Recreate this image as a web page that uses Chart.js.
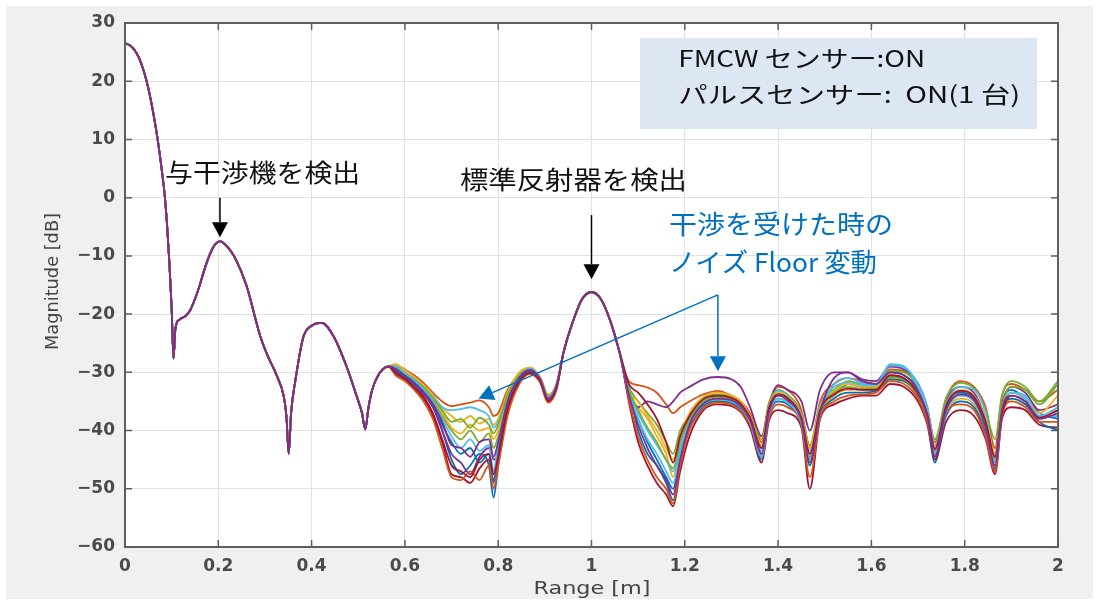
<!DOCTYPE html>
<html>
<head>
<meta charset="utf-8">
<script src="https://cdn.jsdelivr.net/npm/chart.js@4/dist/chart.umd.min.js"></script>
<style>
  html, body { margin: 0; padding: 0; background: #fff; overflow: hidden; }
  canvas { display: block; }
</style>
</head>
<body>
<canvas id="chart" width="1099" height="605"></canvas>
<script>
(function () {
  "use strict";

  // --- data (range in m, magnitude in dB) ---
  // shared part: main lobe, interferer peak and first sidelobes
  var headX = [0, 0.01, 0.02, 0.03, 0.04, 0.05, 0.06, 0.07, 0.08, 0.085, 0.09, 0.095, 0.1, 0.104, 0.108,
    0.116, 0.13, 0.14, 0.155, 0.175, 0.19, 0.204, 0.22, 0.235, 0.26, 0.29, 0.305, 0.325, 0.34,
    0.346, 0.351, 0.356, 0.365, 0.382, 0.40, 0.422, 0.447, 0.475, 0.497, 0.508, 0.515, 0.522, 0.53,
    0.547, 0.565];
  var headY = [26.5, 26.2, 25.4, 24.0, 21.8, 18.8, 14.8, 10.0, 4.0, 0.5, -4.5, -11, -19, -27.6, -22.5,
    -21, -20.3, -19.3, -16.3, -11.2, -8.4, -7.5, -8.5, -10.2, -15, -23.8, -27, -30.5, -34,
    -37.5, -44, -37, -31.5, -24, -22, -21.5, -23.8, -29, -34.2, -37, -39.8, -36, -33,
    -30, -29];

  // noise floor before the reflector
  var floorAX = [0.58, 0.60, 0.62, 0.64, 0.66, 0.68, 0.70, 0.72, 0.74, 0.76, 0.78, 0.79, 0.80, 0.82,
    0.845, 0.868, 0.89, 0.907, 0.925];
  // reflector peak
  var peakX = [0.94, 0.96, 0.98, 1.00, 1.02, 1.04, 1.06];
  var peakY = [-26.6, -21.3, -17.4, -16.2, -17.4, -21.1, -26.5];
  // noise floor after the reflector
  var floorBX = [1.08, 1.10, 1.12, 1.14, 1.16, 1.175, 1.19, 1.21, 1.24, 1.27, 1.30, 1.32, 1.34, 1.365,
    1.38, 1.40, 1.42, 1.45, 1.468, 1.49, 1.52, 1.55, 1.58, 1.61, 1.64, 1.67, 1.70, 1.72, 1.736,
    1.76, 1.79, 1.82, 1.845, 1.865, 1.88, 1.90, 1.93, 1.96, 2.00];

  var floorA = [
    [-29.5, -30.5, -31.5, -33, -35.5, -40, -45, -47.5, -46, -44, -46, -51.5, -46, -37, -31.5, -29.8, -31.5, -34.5, -32.5],
    [-28.8, -29.5, -30.5, -31.8, -33.5, -35, -35.8, -35.5, -35.2, -34.8, -36, -37.5, -37, -33, -30.5, -29.5, -31, -34, -32],
    [-28.6, -29.6, -30.8, -32.2, -34, -36, -37.5, -38.5, -37.5, -38.8, -38, -39, -38, -33.5, -30, -29.2, -30.8, -33.8, -32],
    [-29.8, -31, -32.2, -33.8, -36, -40, -44, -45.5, -47.5, -44.5, -43, -45, -44, -36, -31, -29.6, -31.2, -34.6, -32.4],
    [-29.2, -30.2, -31.4, -32.8, -34.6, -37.5, -40, -41.5, -40, -42, -40.5, -43, -41, -34.5, -30.8, -29.5, -31.1, -34.2, -32.2],
    [-29, -30, -31, -32.5, -34, -36, -36.5, -36.3, -36, -36.5, -37.5, -39.5, -38.5, -34, -30.6, -29.3, -30.9, -34, -32],
    [-30.3, -31.2, -32.8, -34.5, -37.5, -42, -47.5, -48, -49, -46.5, -45, -48.5, -45, -36.5, -31.8, -30.2, -31.6, -35, -32.8],
    [-29.6, -30.8, -32, -33.5, -35.5, -39, -42, -44, -43, -45.5, -44, -49, -43, -35.5, -31.2, -29.8, -31.3, -34.4, -32.4],
    [-30.5, -31.5, -33, -35, -38, -43, -48, -48.5, -47, -48.5, -46, -50, -46, -37.5, -32, -30.3, -31.8, -35.2, -33],
    [-28.7, -29.8, -31, -32.4, -34.2, -37, -39.5, -40.5, -39, -40, -39.5, -41.5, -40, -34, -30.4, -29.2, -30.8, -33.9, -32.1],
    [-29.1, -30.1, -31.2, -32.6, -34.4, -36.5, -38.5, -38, -39.5, -37.8, -39, -40.5, -39, -34, -30.5, -29.4, -31, -34.1, -32.1],
    [-29, -30.1, -31.3, -32.9, -35, -38, -41, -43, -41.5, -43.5, -42.5, -47, -42, -35, -30.8, -29.4, -31, -34.3, -32.2],
    [-30.1, -31.1, -32.6, -34.2, -37, -41.5, -46, -47, -48, -45, -44, -47.5, -44.5, -36.2, -31.6, -30.1, -31.5, -34.9, -32.7],
    [-29.4, -30.6, -31.8, -33.4, -35.4, -38.5, -42.5, -43, -44.5, -42, -41.5, -44.5, -42, -35, -30.9, -29.6, -31.2, -34.5, -32.3]
  ];

  var floorB = [
    [-33, -40, -44, -46, -49, -52, -45, -39, -35, -34, -34.5, -35.5, -38, -44, -37, -33.5, -34.5, -38, -45, -37, -34, -32, -32.5, -32.5, -30, -30.5, -33, -38, -45.5, -36, -33.5, -34.5, -39, -47, -36, -33, -34.5, -37, -38],
    [-31.5, -32.2, -32.6, -33.5, -35.5, -37, -36, -35, -33.8, -33.2, -34, -35, -37, -42, -36, -32.5, -33, -36.5, -43, -35, -32, -31, -31.5, -32, -29.5, -29.8, -32, -36, -42, -34.5, -31.5, -32.5, -36, -43, -34, -32, -33, -35, -33],
    [-33.5, -36, -38, -41, -44, -48, -42, -38, -35.5, -34.8, -35.2, -36.2, -38.5, -43, -37.5, -34.5, -35, -38.5, -44, -37, -34, -33, -33, -33, -31, -31.5, -34, -37.5, -44, -37, -34.5, -35.5, -40, -45, -37.5, -34.5, -35.5, -38, -36],
    [-34, -36, -35, -35.5, -36, -35, -33.5, -32.5, -31.2, -30.8, -31.2, -32.5, -36, -41, -35.5, -32.2, -33, -35, -40, -33, -30, -30, -31.2, -31.5, -29, -29.5, -32, -36.5, -43, -35, -32.5, -33.5, -38, -44, -35.5, -32.5, -33.5, -36.5, -35.5],
    [-32.5, -35, -37, -39, -42, -44, -40, -37.5, -34.5, -33.8, -34.2, -35.3, -37.5, -41.5, -35.5, -33, -33.8, -37, -42.5, -35.5, -33, -31.5, -32, -32, -29.8, -30, -32.5, -36.5, -41.5, -34.5, -31.8, -32.8, -36.5, -41.5, -34, -31.5, -32.5, -35, -31.5],
    [-33, -37, -40, -42.5, -45, -47, -43, -38.5, -35, -34, -34.6, -35.6, -38, -43.5, -36.5, -33.2, -34, -37.5, -43.5, -35.8, -32.5, -31.8, -32.2, -32.2, -28.8, -29.2, -32, -36, -42.5, -35.5, -32.5, -33, -37, -44.5, -36.5, -33.5, -34, -37.5, -37.5],
    [-35, -42, -46, -49, -51, -53, -47, -41, -36.5, -35.5, -35.8, -36.8, -39.5, -45.5, -38.5, -36.5, -37, -39.5, -50, -38, -35.5, -34.5, -34, -34, -32, -32.5, -35, -39, -45, -38.5, -36.5, -37.5, -41.5, -47.5, -38, -36, -36.5, -39, -39.5],
    [-34, -38, -42, -45, -48, -50, -44, -39.5, -35.8, -35, -35.3, -36.3, -38.8, -45, -37.5, -35, -35.5, -39, -46, -37.5, -34.5, -33.5, -33.5, -33.2, -31.2, -31.5, -34, -38, -44.5, -37.5, -35, -36, -40.5, -46.5, -37, -34.5, -35.5, -38.5, -40],
    [-34.5, -41, -45, -48, -50, -52.5, -46, -40, -36.2, -35.2, -35.6, -36.6, -39, -44.5, -38, -35.5, -36, -39, -48, -37.8, -35, -34, -33.8, -33.5, -31.5, -32, -34.5, -38.5, -44, -37, -35.5, -36.5, -41, -47, -37.5, -35, -36, -38.5, -38.5],
    [-33.2, -35, -37.5, -40, -43, -45, -41, -37, -34.2, -33.5, -34, -35, -37.5, -42.5, -36, -33.5, -34.2, -37.5, -43, -36, -33.2, -32, -32.5, -32.5, -30.5, -31, -33.5, -37, -43, -36, -33, -34, -38, -44, -36.5, -33.5, -34.5, -37, -34],
    [-33, -36.5, -39.5, -42, -45, -46.5, -42, -38, -35, -34.2, -34.6, -35.6, -38, -43, -36.8, -34, -34.6, -38, -44.5, -36.4, -33.5, -32.5, -32.8, -32.8, -30.8, -31.2, -33.8, -37.5, -43.5, -36.2, -33.2, -34.2, -38.5, -45, -36, -32.5, -33, -35.5, -32],
    [-33.5, -38, -41.5, -44, -47, -49, -44, -39, -35.5, -34.6, -35, -36, -38.5, -44.5, -37.2, -34.5, -35.2, -38.5, -45, -37, -32, -31, -31.8, -32, -28.6, -29, -32.5, -37, -44, -36.8, -34, -35, -39.5, -45.5, -36.5, -33.5, -34.5, -37.5, -36],
    [-32, -33.5, -35.5, -38, -42, -45.5, -41, -37.5, -34.6, -34, -34.4, -35.4, -37.8, -43, -36.2, -33.8, -34.4, -37.8, -44, -36.5, -33.8, -32.8, -33, -33, -30.5, -31, -33.6, -37.2, -43.2, -35.8, -33.2, -34.2, -38.5, -44.5, -37, -34, -35, -37.8, -36.5],
    [-33.8, -39, -43, -46, -48.5, -51, -45, -39, -35.4, -34.5, -34.8, -35.8, -38.2, -44, -37, -34, -34.8, -38.2, -45.5, -36.8, -31, -30, -31.5, -32, -30, -30.5, -33.2, -37.5, -44.5, -36.5, -33.8, -34.8, -39.5, -46, -36.5, -34, -35, -38, -37]
  ];

  var traceColors = ["#0072BD", "#D95319", "#EDB120", "#7E2F8E", "#77AC30", "#4DBEEE", "#A2142F",
    "#0072BD", "#D95319", "#EDB120", "#77AC30", "#4DBEEE", "#A2142F", "#7E2F8E"];

  var xTicks = [0, 0.2, 0.4, 0.6, 0.8, 1, 1.2, 1.4, 1.6, 1.8, 2];
  var yTicks = [30, 20, 10, 0, -10, -20, -30, -40, -50, -60];

  var xTitle = "Range [m]";
  var yTitle = "Magnitude [dB]";
  var legendLines = ["FMCW センサー:ON", "パルスセンサー:  ON(1 台)"];
  var noteInterferer = "与干渉機を検出";
  var noteReflector = "標準反射器を検出";
  var noteFloor = ["干渉を受けた時の", "ノイズ Floor 変動"];

  // --- build datasets (later traces drawn on top, like MATLAB) ---
  var allX = headX.concat(floorAX, peakX, floorBX);
  var datasets = floorA.map(function (a, i) {
    var ys = headY.concat(a, peakY, floorB[i]);
    return {
      data: allX.map(function (x, k) { return { x: x, y: ys[k] }; }),
      borderColor: traceColors[i],
      borderWidth: 1.8,
      pointRadius: 0,
      fill: false,
      order: floorA.length - i,
      cubicInterpolationMode: "monotone"
    };
  });

  function fitText(ctx, text, x, y, w, font, color) {
    ctx.save();
    ctx.font = font;
    ctx.fillStyle = color;
    ctx.textBaseline = "middle";
    ctx.textAlign = "left";
    var m = ctx.measureText(text).width;
    ctx.translate(x, y);
    ctx.scale(w / m, 1);
    ctx.fillText(text, 0, 0);
    ctx.restore();
  }

  function arrow(ctx, x1, y1, x2, y2, color, lw, headLen, headHalf) {
    var ang = Math.atan2(y2 - y1, x2 - x1);
    var bx = x2 - Math.cos(ang) * headLen;
    var by = y2 - Math.sin(ang) * headLen;
    ctx.save();
    ctx.strokeStyle = color;
    ctx.fillStyle = color;
    ctx.lineWidth = lw;
    ctx.beginPath();
    ctx.moveTo(x1, y1);
    ctx.lineTo(bx, by);
    ctx.stroke();
    ctx.beginPath();
    ctx.moveTo(x2, y2);
    ctx.lineTo(bx + Math.sin(ang) * headHalf, by - Math.cos(ang) * headHalf);
    ctx.lineTo(bx - Math.sin(ang) * headHalf, by + Math.cos(ang) * headHalf);
    ctx.closePath();
    ctx.fill();
    ctx.restore();
  }

  var framePlugin = {
    id: "frame",
    beforeDraw: function (chart) {
      var ctx = chart.ctx, a = chart.chartArea;
      ctx.save();
      ctx.fillStyle = "#ffffff";
      ctx.fillRect(0, 0, chart.width, chart.height);
      ctx.fillStyle = "#f0f0f0";
      ctx.fillRect(6, 6, chart.width - 12, chart.height - 12);
      ctx.fillStyle = "#ffffff";
      ctx.fillRect(a.left, a.top, a.right - a.left, a.bottom - a.top);
      ctx.restore();
    },
    afterDraw: function (chart) {
      var ctx = chart.ctx, a = chart.chartArea;
      var xs = chart.scales.x, ys = chart.scales.y;
      ctx.save();
      // box and inward ticks
      ctx.strokeStyle = "#5e5e5e";
      ctx.lineWidth = 2;
      ctx.strokeRect(a.left, a.top, a.right - a.left, a.bottom - a.top);
      ctx.lineWidth = 1.5;
      ctx.beginPath();
      xTicks.forEach(function (v) {
        var px = xs.getPixelForValue(v);
        ctx.moveTo(px, a.bottom); ctx.lineTo(px, a.bottom - 7);
        ctx.moveTo(px, a.top); ctx.lineTo(px, a.top + 7);
      });
      yTicks.forEach(function (v) {
        var py = ys.getPixelForValue(v);
        ctx.moveTo(a.left, py); ctx.lineTo(a.left + 7, py);
        ctx.moveTo(a.right, py); ctx.lineTo(a.right - 7, py);
      });
      ctx.stroke();
      ctx.restore();

      // axis titles
      fitText(ctx, xTitle, (a.left + a.right) / 2 - 58, 589, 117, '18px "DejaVu Sans"', "#444444");
      ctx.save();
      ctx.translate(54, 350);
      ctx.rotate(-Math.PI / 2);
      fitText(ctx, yTitle, 0, 0, 137, '17px "DejaVu Sans"', "#444444");
      ctx.restore();

      // legend box
      ctx.save();
      ctx.fillStyle = "#dce7f3";
      ctx.fillRect(xs.getPixelForValue(1.104), ys.getPixelForValue(27.4),
        xs.getPixelForValue(1.955) - xs.getPixelForValue(1.104),
        ys.getPixelForValue(11.8) - ys.getPixelForValue(27.4));
      ctx.restore();
      var lx = xs.getPixelForValue(1.186);
      fitText(ctx, legendLines[0], lx, ys.getPixelForValue(23.9), 247, '23px "Noto Sans CJK JP"', "#111111");
      fitText(ctx, legendLines[1], lx, ys.getPixelForValue(17.8), 342, '23px "Noto Sans CJK JP"', "#111111");

      // black notes and arrows
      fitText(ctx, noteInterferer, xs.getPixelForValue(0.086), ys.getPixelForValue(4.3), 195, '25px "Noto Sans CJK JP"', "#111111");
      fitText(ctx, noteReflector, xs.getPixelForValue(0.718), ys.getPixelForValue(3.1), 227, '25px "Noto Sans CJK JP"', "#111111");
      arrow(ctx, xs.getPixelForValue(0.2036), ys.getPixelForValue(0), xs.getPixelForValue(0.2036), ys.getPixelForValue(-6.8), "#000000", 1.5, 15, 8);
      arrow(ctx, xs.getPixelForValue(1.0), ys.getPixelForValue(-3.0), xs.getPixelForValue(1.0), ys.getPixelForValue(-14.0), "#000000", 1.5, 15, 8);

      // blue notes and arrows
      fitText(ctx, noteFloor[0], xs.getPixelForValue(1.166), ys.getPixelForValue(-4.6), 224, '26px "Noto Sans CJK JP"', "#0070C0");
      fitText(ctx, noteFloor[1], xs.getPixelForValue(1.166), ys.getPixelForValue(-11.0), 208, '26px "Noto Sans CJK JP"', "#0070C0");
      var apX = xs.getPixelForValue(1.271), apY = ys.getPixelForValue(-16.7);
      arrow(ctx, apX, apY, xs.getPixelForValue(0.758), ys.getPixelForValue(-34.5), "#0070C0", 1.5, 15, 8);
      arrow(ctx, apX, apY, apX, ys.getPixelForValue(-29.8), "#0070C0", 1.5, 15, 8);
    }
  };

  function fmtX(v) {
    return String(Number(v.toFixed(1)));
  }
  function fmtY(v) {
    return String(v).replace("-", "\u2212");
  }

  new Chart(document.getElementById("chart"), {
    type: "line",
    data: { datasets: datasets },
    plugins: [framePlugin],
    options: {
      responsive: false,
      animation: false,
      parsing: false,
      layout: { padding: { left: 6, top: 23, right: 41, bottom: 0 } },
      plugins: { legend: { display: false }, tooltip: { enabled: false } },
      scales: {
        x: {
          type: "linear",
          min: 0,
          max: 2,
          afterFit: function (s) { s.height = 58; },
          afterBuildTicks: function (s) { s.ticks = xTicks.map(function (v) { return { value: v }; }); },
          grid: { color: "#e2e2e2", lineWidth: 1, drawTicks: false },
          border: { display: false },
          ticks: {
            padding: 9,
            color: "#4a4a4a",
            font: { family: "DejaVu Sans", size: 17, weight: "bold" },
            maxRotation: 0,
            callback: fmtX
          }
        },
        y: {
          type: "linear",
          min: -60,
          max: 30,
          afterFit: function (s) { s.width = 119; },
          afterBuildTicks: function (s) { s.ticks = yTicks.map(function (v) { return { value: v }; }); },
          grid: { color: "#e2e2e2", lineWidth: 1, drawTicks: false },
          border: { display: false },
          ticks: {
            padding: 10,
            color: "#4a4a4a",
            font: { family: "DejaVu Sans", size: 17, weight: "bold" },
            callback: fmtY
          }
        }
      }
    }
  });
})();
</script>
</body>
</html>
